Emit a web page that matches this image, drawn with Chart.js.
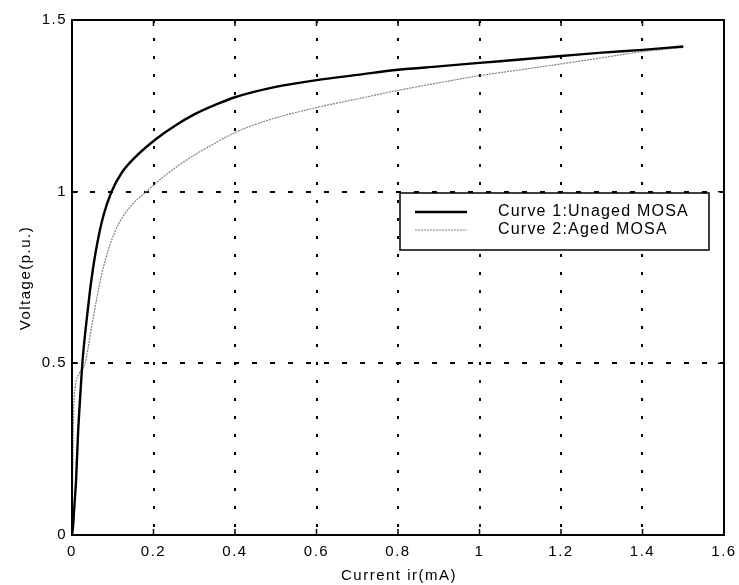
<!DOCTYPE html>
<html>
<head>
<meta charset="utf-8">
<script src="https://cdn.jsdelivr.net/npm/chart.js@4.4.0/dist/chart.umd.min.js"></script>
<style>
  html, body { margin: 0; padding: 0; background: #fff; }
  #wrap { width: 739px; height: 585px; }
</style>
</head>
<body>
<div id="wrap"><canvas id="chart"></canvas></div>
<script>
// current (mA) vs voltage (p.u.)
const unagedI = [0, 0.003, 0.005, 0.01, 0.015, 0.02, 0.026, 0.034, 0.044, 0.052, 0.062, 0.077, 0.097, 0.122, 0.159, 0.208, 0.25, 0.3, 0.36, 0.4, 0.5, 0.6, 0.7, 0.8, 0.9, 1.0, 1.1, 1.2, 1.3, 1.4, 1.5];
const unagedV = [0, 0.03, 0.07, 0.16, 0.3, 0.4, 0.509, 0.606, 0.71, 0.78, 0.85, 0.93, 1.0, 1.055, 1.105, 1.155, 1.19, 1.225, 1.257, 1.275, 1.305, 1.325, 1.34, 1.355, 1.365, 1.375, 1.385, 1.395, 1.405, 1.413, 1.423];
const agedI = [0, 0.002, 0.004, 0.008, 0.018, 0.032, 0.048, 0.061, 0.073, 0.093, 0.114, 0.142, 0.187, 0.224, 0.281, 0.331, 0.405, 0.46, 0.5, 0.6, 0.7, 0.8, 0.9, 1.0, 1.1, 1.2, 1.3, 1.4, 1.5];
const agedV = [0, 0.2, 0.36, 0.43, 0.47, 0.5, 0.606, 0.69, 0.76, 0.845, 0.905, 0.955, 1.005, 1.043, 1.092, 1.128, 1.175, 1.2, 1.215, 1.245, 1.27, 1.295, 1.317, 1.338, 1.355, 1.372, 1.39, 1.408, 1.42];
const xTicks = [0, 0.2, 0.4, 0.6, 0.8, 1, 1.2, 1.4, 1.6];
const yTicks = [0, 0.5, 1, 1.5];
const seriesNames = ['Curve 1:Unaged MOSA', 'Curve 2:Aged MOSA'];

const FONT = '"Liberation Sans", Arial, sans-serif';

const toPoints = (xs, ys) => xs.map((x, i) => ({ x: x, y: ys[i] }));

// keep the wide matlab-ish letter spacing (canvas resets wipe it)
const spacing = {
  id: 'spacing',
  beforeUpdate(chart) { chart.ctx.letterSpacing = '1.5px'; },
  beforeDraw(chart) { chart.ctx.letterSpacing = '1.5px'; }
};

// box, inward ticks, axis titles and legend
const frame = {
  id: 'frame',
  afterDraw(chart) {
    const ctx = chart.ctx;
    const a = chart.chartArea;
    const xs = chart.scales.x, ys = chart.scales.y;
    ctx.save();
    ctx.strokeStyle = '#000';
    ctx.lineWidth = 2;
    ctx.strokeRect(a.left, a.top, a.right - a.left, a.bottom - a.top);

    ctx.lineWidth = 1.5;
    ctx.beginPath();
    xTicks.forEach(v => {
      const px = xs.getPixelForValue(v);
      ctx.moveTo(px, a.bottom); ctx.lineTo(px, a.bottom - 6);
      ctx.moveTo(px, a.top); ctx.lineTo(px, a.top + 6);
    });
    yTicks.forEach(v => {
      const py = ys.getPixelForValue(v);
      ctx.moveTo(a.left, py); ctx.lineTo(a.left + 6, py);
      ctx.moveTo(a.right, py); ctx.lineTo(a.right - 6, py);
    });
    ctx.stroke();

    // titles
    ctx.fillStyle = '#000';
    ctx.font = '15px ' + FONT;
    ctx.letterSpacing = '1.5px';
    ctx.textAlign = 'center';
    ctx.textBaseline = 'middle';
    ctx.fillText('Current ir(mA)', 399, 576);
    ctx.save();
    ctx.translate(26, 278);
    ctx.rotate(-Math.PI / 2);
    ctx.fillText('Voltage(p.u.)', 0, 0);
    ctx.restore();

    // legend box
    const lx = 400, ly = 193, lw = 309, lh = 57;
    ctx.fillStyle = '#fff';
    ctx.fillRect(lx, ly, lw, lh);
    ctx.lineWidth = 1.5;
    ctx.strokeStyle = '#000';
    ctx.strokeRect(lx, ly, lw, lh);
    chart.data.datasets.forEach((ds, i) => {
      const yy = 212 + i * 18;
      ctx.save();
      ctx.strokeStyle = ds.borderColor;
      ctx.lineWidth = ds.borderWidth;
      ctx.setLineDash(ds.borderDash || []);
      ctx.beginPath();
      ctx.moveTo(415, yy); ctx.lineTo(467, yy);
      ctx.stroke();
      ctx.restore();
      ctx.fillStyle = '#000';
      ctx.font = '16px ' + FONT;
      ctx.letterSpacing = '1.2px';
      ctx.textAlign = 'left';
      ctx.fillText(ds.label, 498, yy);
    });
    ctx.restore();
  }
};

new Chart(document.getElementById('chart'), {
  type: 'scatter',
  data: {
    datasets: [
      {
        label: seriesNames[0],
        data: toPoints(unagedI, unagedV),
        showLine: true,
        borderColor: '#000',
        borderWidth: 2.4,
        pointRadius: 0,
        cubicInterpolationMode: 'monotone'
      },
      {
        label: seriesNames[1],
        data: toPoints(agedI, agedV),
        showLine: true,
        borderColor: '#808080',
        borderWidth: 1.2,
        borderDash: [2, 1],
        pointRadius: 0,
        cubicInterpolationMode: 'monotone'
      }
    ]
  },
  options: {
    responsive: true,
    maintainAspectRatio: false,
    animation: false,
    layout: { padding: { left: 0, right: 15, top: 20, bottom: 0 } },
    plugins: { legend: { display: false }, tooltip: { enabled: false } },
    scales: {
      x: {
        type: 'linear',
        min: 0, max: 1.6,
        afterBuildTicks: s => { s.ticks = xTicks.map(v => ({ value: v })); },
        afterFit: s => { s.height = 50; s.paddingLeft = 0; s.paddingRight = 0; },
        ticks: { color: '#000', font: { size: 15, family: FONT }, padding: 8, maxRotation: 0, callback: v => String(v) },
        grid: { color: '#000', lineWidth: 2, drawTicks: false },
        border: { display: false, dash: [3, 15] }
      },
      y: {
        type: 'linear',
        min: 0, max: 1.5,
        afterBuildTicks: s => { s.ticks = yTicks.map(v => ({ value: v })); },
        afterFit: s => { s.width = 72; s.paddingTop = 0; s.paddingBottom = 0; },
        ticks: { color: '#000', font: { size: 15, family: FONT }, padding: 5, callback: v => String(v) },
        grid: { color: '#000', lineWidth: 2, drawTicks: false },
        border: { display: false, dash: [5, 13] }
      }
    }
  },
  plugins: [spacing, frame]
});
</script>
</body>
</html>
